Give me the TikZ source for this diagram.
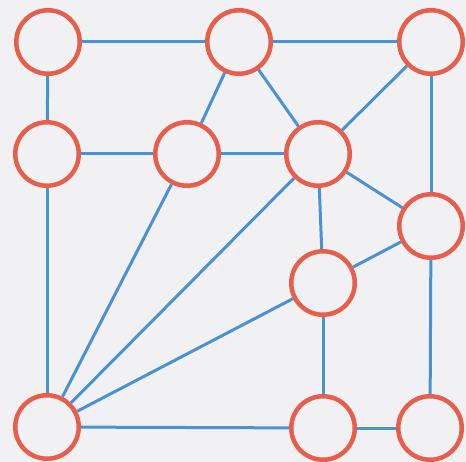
\documentclass[tikz,border=0pt]{standalone}
\definecolor{bgc}{HTML}{F1F1F3}
\definecolor{ring}{HTML}{E65E4C}
\definecolor{edgec}{HTML}{4A92D2}
\begin{document}
\begin{tikzpicture}[x=1pt,y=-1pt]
\tikzset{gnode/.style={circle,draw=ring,line width=4.5pt,minimum size=63.5pt,inner sep=0pt},
  gedge/.style={draw=edgec,line width=3pt}}
\fill[bgc] (0,0) rectangle (466,462);
\useasboundingbox (0,0) rectangle (466,462);
\node[gnode] (nA) at (48,42) {};
\node[gnode] (nB) at (239,42) {};
\node[gnode] (nC) at (431,42) {};
\node[gnode] (nD) at (47,154) {};
\node[gnode] (nE) at (187,154) {};
\node[gnode] (nF) at (318,154) {};
\node[gnode] (nG) at (431,226) {};
\node[gnode] (nH) at (323,283) {};
\node[gnode] (nI) at (47,427) {};
\node[gnode] (nJ) at (323,428) {};
\node[gnode] (nK) at (430,428) {};
\path[gedge] (nA) -- (nB);
\path[gedge] (nB) -- (nC);
\path[gedge] (nA) -- (nD);
\path[gedge] (nD) -- (nE);
\path[gedge] (nE) -- (nF);
\path[gedge] (nB) -- (nE);
\path[gedge] (nB) -- (nF);
\path[gedge] (nC) -- (nF);
\path[gedge] (nC) -- (nG);
\path[gedge] (nF) -- (nG);
\path[gedge] (nF) -- (nH);
\path[gedge] (nH) -- (nG);
\path[gedge] (nI) -- (nD);
\path[gedge] (nI) -- (nE);
\path[gedge] (nI) -- (nF);
\path[gedge] (nI) -- (nH);
\path[gedge] (nI) -- (nJ);
\path[gedge] (nJ) -- (nK);
\path[gedge] (nH) -- (nJ);
\path[gedge] (nG) -- (nK);
\end{tikzpicture}
\end{document}
